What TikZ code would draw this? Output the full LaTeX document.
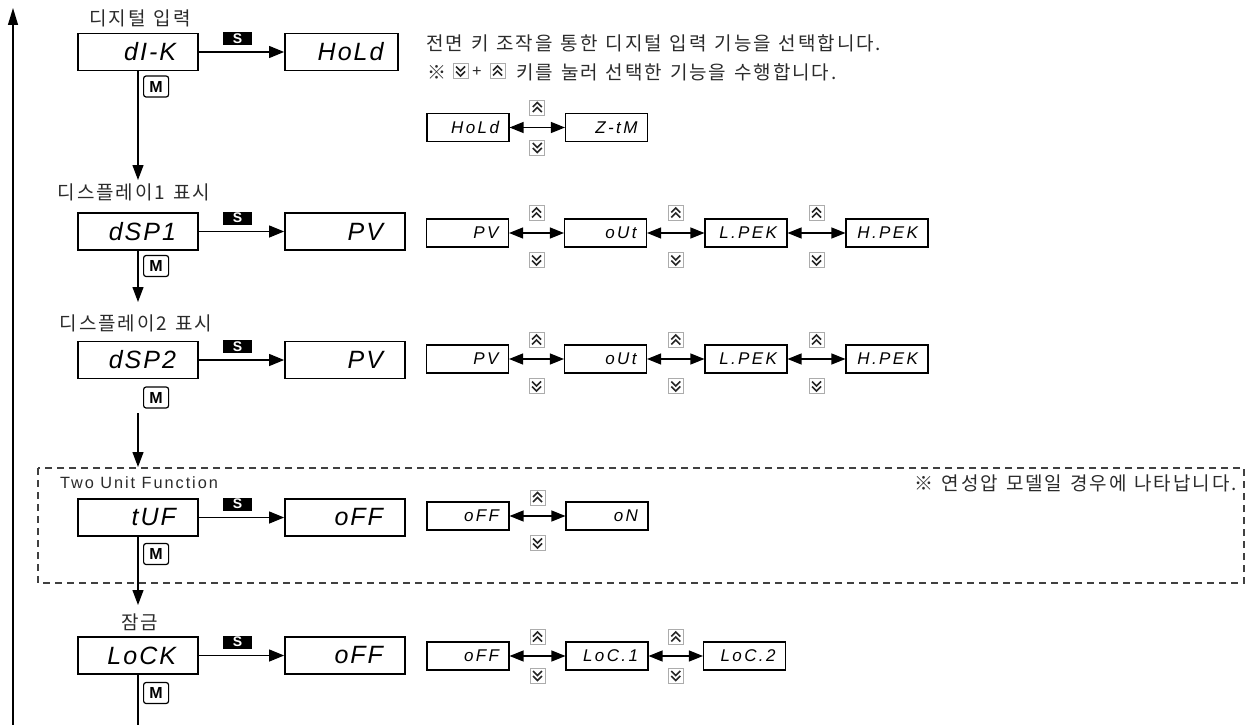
\documentclass[tikz,border=0pt]{standalone}
\usepackage{fontspec}
\newfontfamily\kr[WordSpace=1.3,LetterSpace=10]{Noto Sans CJK KR}
\newfontfamily\lat[LetterSpace=12]{Liberation Sans}
\newfontfamily\seg[LetterSpace=8]{Liberation Sans}
\newfontfamily\segs[LetterSpace=14]{Liberation Sans}
\newfontfamily\bsans{Liberation Sans}
\usetikzlibrary{arrows.meta,calc}
\definecolor{ink}{HTML}{2B2B2B}
\begin{document}
\begin{tikzpicture}[x=1pt,y=-1pt,
  big/.style={draw=black, line width=1.8pt, minimum height=37pt, inner ysep=0pt,
    inner xsep=22pt, text width=76pt, align=right,
    font=\seg\itshape\fontsize{25}{25}\selectfont},
  small/.style={draw=black, line width=1.1pt, minimum height=28pt, inner ysep=0pt,
    inner xsep=10pt, text width=62pt, align=right,
    font=\segs\itshape\fontsize{17}{17}\selectfont},
  krtext/.style={inner sep=0pt, text=ink, font=\kr\fontsize{19}{19}\selectfont},
  lattext/.style={inner sep=0pt, text=ink, font=\lat\fontsize{16.3}{16.3}\selectfont},
  skey/.style={fill=black, text=white, inner sep=0pt, minimum width=29pt, minimum height=13pt,
    font=\bsans\bfseries\fontsize{14}{14}\selectfont},
  mkey/.style={draw=black, line width=1.2pt, rounded corners=2.5pt, fill=white,
    minimum width=25pt, minimum height=21pt, inner sep=0pt,
    font=\bsans\bfseries\fontsize{16}{16}\selectfont},
  keybox/.style={draw=gray!65, line width=0.8pt, fill=white, minimum size=15pt, inner sep=0pt},
  chev/.style={line width=1.6pt, draw=black!85, miter limit=4},
  upkey/.pic={\node[keybox] (-b) {};
    \draw[chev] (-4.5,-0.5) -- (0,-5) -- (4.5,-0.5);
    \draw[chev] (-4.5,4.5) -- (0,0) -- (4.5,4.5);},
  downkey/.pic={\node[keybox] (-b) {};
    \draw[chev] (-4.5,-4.5) -- (0,0) -- (4.5,-4.5);
    \draw[chev] (-4.5,0.5) -- (0,5) -- (4.5,0.5);},
  flow/.style={line width=1.2pt, draw=black, -{Triangle[length=15pt,width=11pt]}},
  sarrow/.style={line width=1.2pt, draw=black, -{Triangle[length=15pt,width=12pt]}},
  dbl/.style={line width=1.2pt, draw=black, {Triangle[length=14pt,width=11pt]}-{Triangle[length=14pt,width=11pt]}},
  plain/.style={line width=1.2pt, draw=black},
  dashbox/.style={line width=1.2pt, draw=black!75, dash pattern=on 7pt off 5pt}
]
\useasboundingbox (0,0) rectangle (1247,725);

% ---------- return line ----------
\coordinate (r0) at (13,725);
\coordinate (r1) at (13,8);
\draw[line width=1.2pt, -{Triangle[length=17pt,width=10pt]}] (r0) -- (r1);

% ---------- Row 1 : dI-K ----------
\node[krtext] (lbl1) at (140,18) {디지털 입력};
\node[big] (dik) at (138,52) {dI-K};
\node[big, text width=84pt, inner xsep=14.5pt] (hold) at (341.5,52) {HoLd};
\draw[sarrow] (dik.east) -- (hold.west);
\node[skey] (s1) at (237.5,38.5) {S};
\node[mkey, anchor=north west] (m1) at ($(dik.south)+(5,4)$) {M};

\node[krtext, anchor=west] (desc1) at (426,43) {전면 키 조작을 통한 디지털 입력 기능을 선택합니다.};
\node[krtext] (mark1) at (437,72) {※};
\pic (dkey0) at (460.5,71) {downkey};
\node[lattext] (plus0) at (477,72) {+};
\pic (ukey0) at (497.5,71) {upkey};
\node[krtext, anchor=west] (desc2) at (516,72) {키를 눌러 선택한 기능을 수행합니다.};

\node[small] (o11) at (468,127.5) {HoLd};
\node[small] (o12) at (606.5,127.5) {Z-tM};
\draw[dbl] (o11.east) -- (o12.west);
\pic (u11) at ($(o11.east)!0.5!(o12.west)+(0,-20)$) {upkey};
\pic (d11) at ($(o11.east)!0.5!(o12.west)+(0,20)$) {downkey};

% ---------- Row 2 : dSP1 ----------
\coordinate (t1) at (138,180);
\draw[flow] (dik.south) -- (t1);
\node[krtext] (lbl2) at (134,192) {디스플레이1 표시};
\node[big] (dsp1) at (138,231.5) {dSP1};
\node[big] (pv1) at (345,231.5) {PV};
\draw[sarrow] (dsp1.east) -- (pv1.west);
\node[skey] (s2) at (237.5,218) {S};
\node[mkey, anchor=north west] (m2) at ($(dsp1.south)+(5,4)$) {M};

\node[small] (o21) at (467.5,233) {PV};
\node[small] (o22) at (605.5,233) {oUt};
\node[small] (o23) at (746,233) {L.PEK};
\node[small] (o24) at (887,233) {H.PEK};
\draw[dbl] (o21.east) -- (o22.west);
\draw[dbl] (o22.east) -- (o23.west);
\draw[dbl] (o23.east) -- (o24.west);
\pic (u21) at ($(o21.east)!0.5!(o22.west)+(0,-20)$) {upkey};
\pic (d21) at ($(o21.east)!0.5!(o22.west)+(0,27)$) {downkey};
\pic (u22) at ($(o22.east)!0.5!(o23.west)+(0,-20)$) {upkey};
\pic (d22) at ($(o22.east)!0.5!(o23.west)+(0,27)$) {downkey};
\pic (u23) at ($(o23.east)!0.5!(o24.west)+(0,-20)$) {upkey};
\pic (d23) at ($(o23.east)!0.5!(o24.west)+(0,27)$) {downkey};

% ---------- Row 3 : dSP2 ----------
\coordinate (t2) at (138,302);
\draw[flow] (dsp1.south) -- (t2);
\node[krtext] (lbl3) at (136,323) {디스플레이2 표시};
\node[big] (dsp2) at (138,360) {dSP2};
\node[big] (pv2) at (345,360) {PV};
\draw[sarrow] (dsp2.east) -- (pv2.west);
\node[skey] (s3) at (237.5,346.5) {S};
\node[mkey, anchor=north west] (m3) at ($(dsp2.south)+(5,7)$) {M};

\node[small] (o31) at (467.5,359) {PV};
\node[small] (o32) at (605.5,359) {oUt};
\node[small] (o33) at (746,359) {L.PEK};
\node[small] (o34) at (887,359) {H.PEK};
\draw[dbl] (o31.east) -- (o32.west);
\draw[dbl] (o32.east) -- (o33.west);
\draw[dbl] (o33.east) -- (o34.west);
\pic (u31) at ($(o31.east)!0.5!(o32.west)+(0,-19)$) {upkey};
\pic (d31) at ($(o31.east)!0.5!(o32.west)+(0,27)$) {downkey};
\pic (u32) at ($(o32.east)!0.5!(o33.west)+(0,-19)$) {upkey};
\pic (d32) at ($(o32.east)!0.5!(o33.west)+(0,27)$) {downkey};
\pic (u33) at ($(o33.east)!0.5!(o34.west)+(0,-19)$) {upkey};
\pic (d33) at ($(o33.east)!0.5!(o34.west)+(0,27)$) {downkey};

% ---------- Row 4 : tUF (dashed) ----------
\coordinate (c3) at (138,413);
\coordinate (t3) at (138,467);
\draw[flow] (c3) -- (t3);
\draw[dashbox] (38,468) rectangle (1244,583);
\node[lattext] (lbl4) at (139,483) {Two Unit Function};
\node[krtext, anchor=east] (note4) at (1237,483) {※ 연성압 모델일 경우에 나타납니다.};
\node[big] (tuf) at (138,517.5) {tUF};
\node[big] (off4) at (345,517.5) {oFF};
\draw[sarrow] (tuf.east) -- (off4.west);
\node[skey] (s4) at (237.5,504) {S};
\node[mkey, anchor=north west] (m4) at ($(tuf.south)+(5,6)$) {M};

\node[small] (o41) at (468,516) {oFF};
\node[small] (o42) at (607,516) {oN};
\draw[dbl] (o41.east) -- (o42.west);
\pic (u41) at ($(o41.east)!0.5!(o42.west)+(0,-18.5)$) {upkey};
\pic (d41) at ($(o41.east)!0.5!(o42.west)+(0,27)$) {downkey};

% ---------- Row 5 : LoCK ----------
\coordinate (t4) at (138,605);
\draw[flow] (tuf.south) -- (t4);
\node[krtext] (lbl5) at (140,622) {잠금};
\node[big] (lock) at (138,655.5) {LoCK};
\node[big] (off5) at (345,655.5) {oFF};
\draw[sarrow] (lock.east) -- (off5.west);
\node[skey] (s5) at (237.5,642) {S};
\node[mkey, anchor=north west] (m5) at ($(lock.south)+(5,7)$) {M};
\coordinate (t5) at (138,725);
\draw[plain] (lock.south) -- (t5);

\node[small] (o51) at (468,656) {oFF};
\node[small] (o52) at (607,656) {LoC.1};
\node[small] (o53) at (744.5,656) {LoC.2};
\draw[dbl] (o51.east) -- (o52.west);
\draw[dbl] (o52.east) -- (o53.west);
\pic (u51) at ($(o51.east)!0.5!(o52.west)+(0,-19)$) {upkey};
\pic (d51) at ($(o51.east)!0.5!(o52.west)+(0,19.5)$) {downkey};
\pic (u52) at ($(o52.east)!0.5!(o53.west)+(0,-19)$) {upkey};
\pic (d52) at ($(o52.east)!0.5!(o53.west)+(0,19.5)$) {downkey};
\end{tikzpicture}
\end{document}
